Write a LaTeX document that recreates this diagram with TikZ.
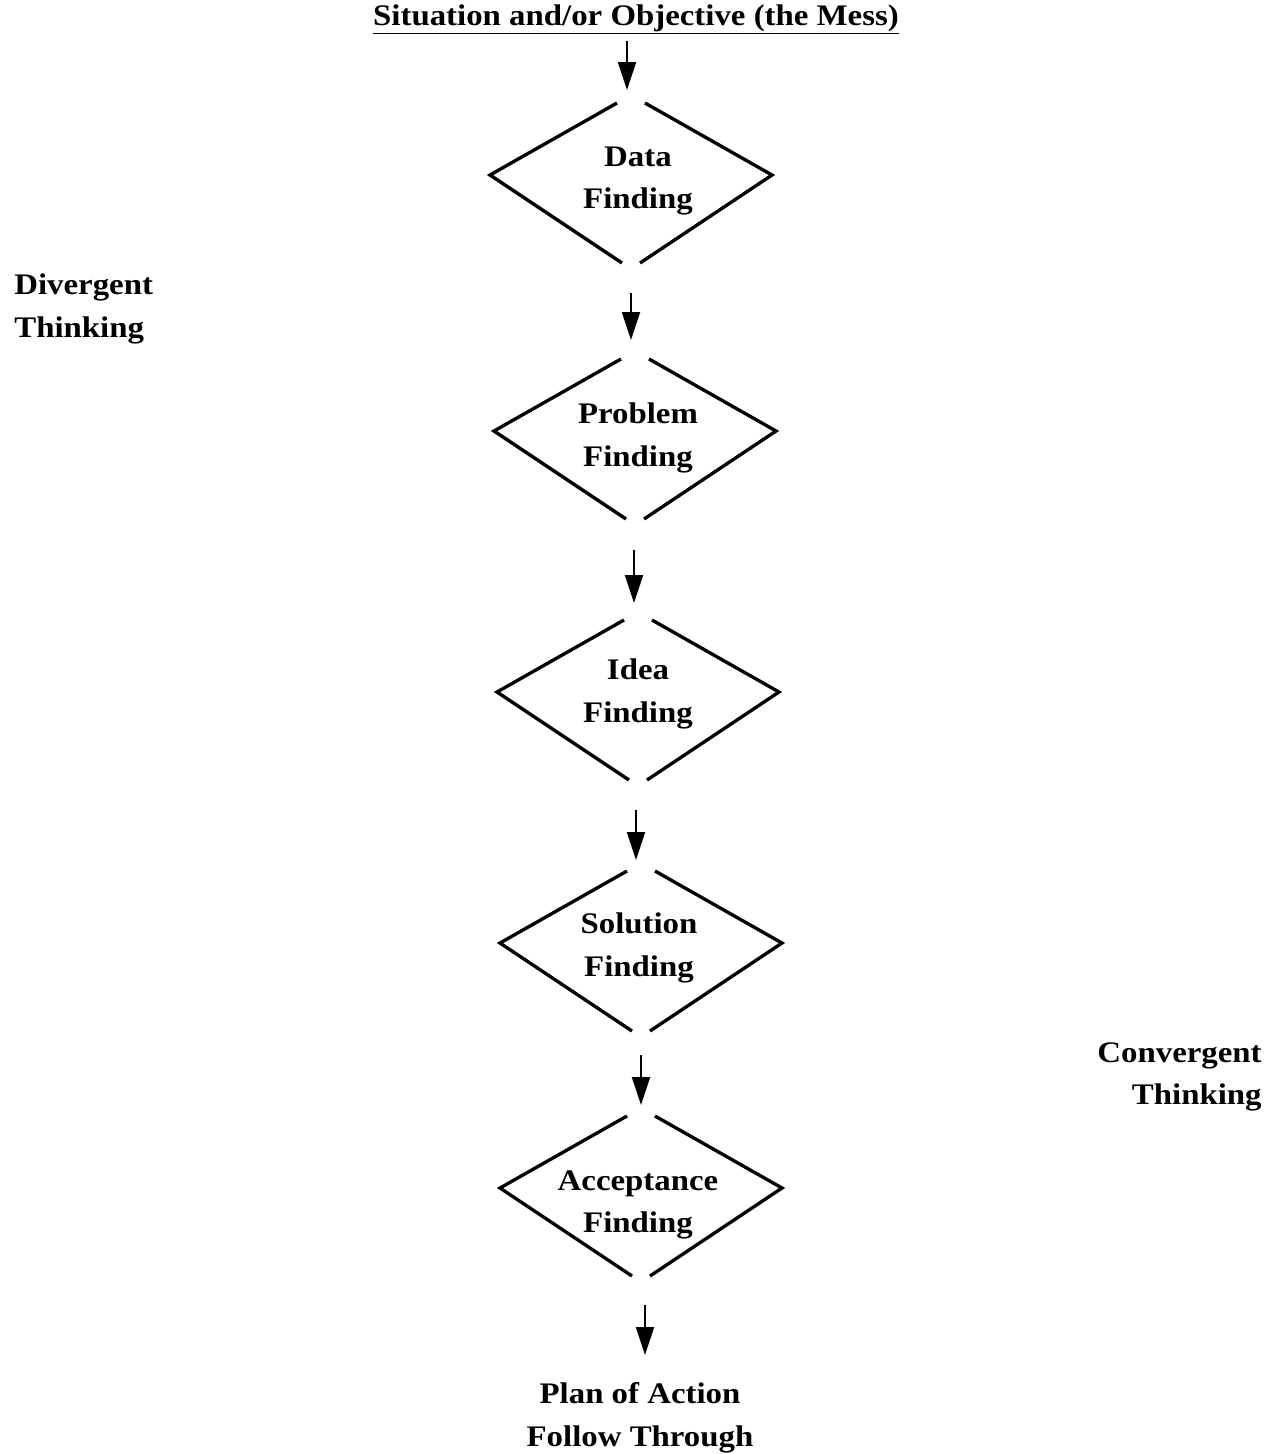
\documentclass[tikz,border=0pt]{standalone}
\usepackage{fontspec}
\setmainfont{Liberation Serif}[FakeStretch=1.1]
\usetikzlibrary{arrows.meta}
\tikzset{
  stage/.style={align=center,inner sep=0pt,font=\fontsize{17}{24.2}\selectfont\bfseries},
  side/.style={stage,align=left},
  flow/.style={line width=1.3pt,-{Triangle[width=0.36cm,length=0.56cm]}},
  rim/.style={line width=1.9pt},
}
\begin{document}
\begin{tikzpicture}[x=0.02cm,y=-0.02cm]
  \useasboundingbox (0,0) rectangle (1276,1454);
  \node[stage,anchor=base] (mess) at (636,25) {\underline{Situation and/or Objective (the Mess)}};
  \node[stage] (data) at (638,181) {Data\\Finding};
  \node[stage] (problem) at (638,438) {Problem\\Finding};
  \node[stage] (idea) at (638,694) {Idea\\Finding};
  \node[stage] (solution) at (639,948) {Solution\\Finding};
  \node[stage] (accept) at (638,1205) {Acceptance\\Finding};
  \node[stage] (plan) at (640,1418) {Plan of Action\\Follow Through};
  \node[side,anchor=west] (diverge) at (14,309) {Divergent\\Thinking};
  \node[side,anchor=east,align=right] (converge) at (1262,1077) {Convergent\\Thinking};
  % diamonds, open at top and bottom
  \foreach \cx/\cy in {631/175,635/431,638/692,641/943,641/1188} {
    \draw[rim] (\cx-14,\cy-72) -- (\cx-141,\cy) -- (\cx-9,\cy+88);
    \draw[rim] (\cx+14,\cy-72) -- (\cx+141,\cy) -- (\cx+9,\cy+88);
  }
  \draw[flow] ([shift={(-9,16)}]mess.base) -- ([shift={(-11,-91)}]data.center);
  \draw[flow] ([shift={(-7,112)}]data.center) -- ([shift={(-7,-98)}]problem.center);
  \draw[flow] ([shift={(-4,112)}]problem.center) -- ([shift={(-4,-91)}]idea.center);
  \draw[flow] ([shift={(-2,116)}]idea.center) -- ([shift={(-3,-88)}]solution.center);
  \draw[flow] ([shift={(2,107)}]solution.center) -- ([shift={(3,-100)}]accept.center);
  \draw[flow] ([shift={(7,100)}]accept.center) -- ([shift={(5,-63)}]plan.center);
\end{tikzpicture}
\end{document}
